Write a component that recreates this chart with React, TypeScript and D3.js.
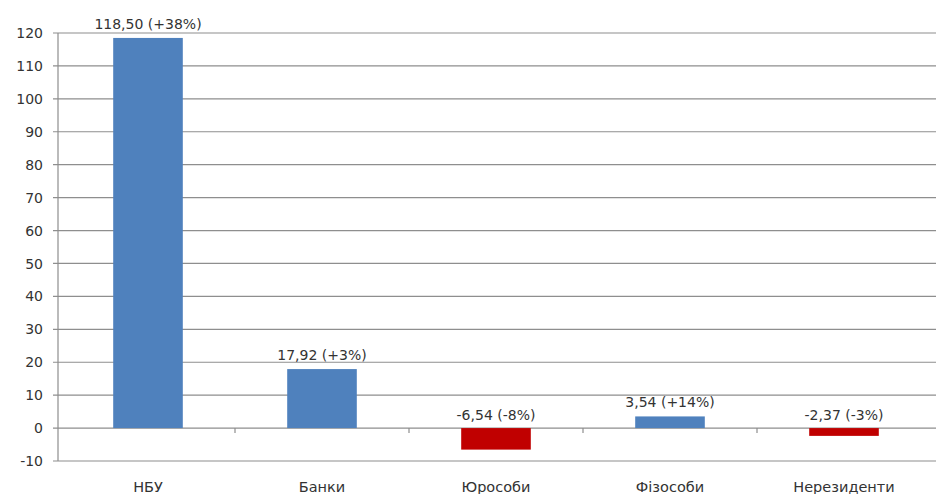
import React from "react";
import * as d3 from "d3";

const categories = ["НБУ", "Банки", "Юрособи", "Фізособи", "Нерезиденти"];
const values = [118.5, 17.92, -6.54, 3.54, -2.37];
const labels = ["118,50 (+38%)", "17,92 (+3%)", "-6,54 (-8%)", "3,54 (+14%)", "-2,37 (-3%)"];
const yTicks = [-10, 0, 10, 20, 30, 40, 50, 60, 70, 80, 90, 100, 110, 120];

const W = 936;
const H = 494;
const FONT = "'DejaVu Sans', Verdana, sans-serif";
const GRID = "#8e8e8e";
const TEXT = "#333333";

export default function App() {
  const axisX = 58;
  const x = d3
    .scaleBand<string>()
    .domain(categories)
    .range([61, 931])
    .paddingInner(0.6)
    .paddingOuter(0.3);
  const y = d3.scaleLinear().domain([-10, 120]).range([461, 33]);
  const step = x.step();

  return (
    <svg
      width={W}
      height={H}
      style={{ position: "absolute", left: 0, top: 0, background: "#fff" }}
      fontFamily={FONT}
    >
      <rect x={0} y={0} width={W} height={H} fill="#fff" />
      {yTicks.map((t) => (
        <g key={t}>
          <line x1={axisX - 5} x2={W} y1={y(t)} y2={y(t)} stroke={GRID} strokeWidth={1.2} />
          <text
            x={43}
            y={y(t)}
            dy="0.36em"
            textAnchor="end"
            fontSize={14}
            fill={TEXT}
          >
            {t}
          </text>
        </g>
      ))}
      <line x1={axisX} x2={axisX} y1={y(120)} y2={y(-10)} stroke={GRID} strokeWidth={1.2} />
      {categories.slice(1).map((c) => {
        const bx = (x(c) as number) - (step - x.bandwidth()) / 2;
        return (
          <line key={"t" + c} x1={bx} x2={bx} y1={y(0)} y2={y(0) + 5} stroke={GRID} strokeWidth={1.2} />
        );
      })}
      {categories.map((c, i) => {
        const v = values[i];
        const bx = x(c) as number;
        const top = y(Math.max(0, v));
        const h = Math.abs(y(v) - y(0));
        const cx = bx + x.bandwidth() / 2;
        const ly = v >= 0 ? y(v) - 9 : y(0) - 8;
        return (
          <g key={c}>
            <rect x={bx} y={top} width={x.bandwidth()} height={h} fill={v >= 0 ? "#4F81BD" : "#C00000"} />
            <text x={cx} y={ly} textAnchor="middle" fontSize={14} fill={TEXT}>
              {labels[i]}
            </text>
            <text x={cx} y={492} textAnchor="middle" fontSize={14.5} fill={TEXT}>
              {c}
            </text>
          </g>
        );
      })}
    </svg>
  );
}
